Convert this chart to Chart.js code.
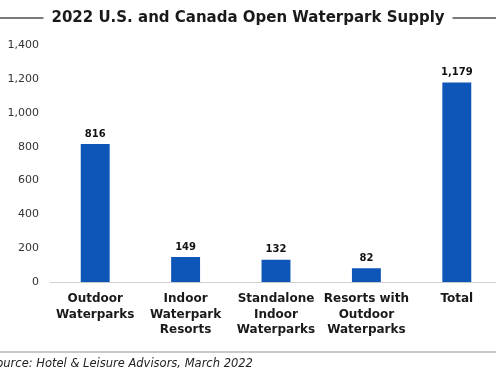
<!DOCTYPE html>
<html><head><meta charset="utf-8">
<script src="https://cdn.jsdelivr.net/npm/chart.js@4/dist/chart.umd.min.js"></script>
<style>
html,body{margin:0;padding:0;background:#fff;overflow:hidden;width:496px;height:380px;}
#wrap{position:absolute;left:0;top:0;width:502px;height:380px;}
</style></head><body>
<div id="wrap"><canvas id="c" width="502" height="380"></canvas></div>
<script>
const titleText = "2022 U.S. and Canada Open Waterpark Supply";
const sourceText = "Source: Hotel & Leisure Advisors, March 2022";
const categories = [["Outdoor","Waterparks"],["Indoor","Waterpark","Resorts"],["Standalone","Indoor","Waterparks"],["Resorts with","Outdoor","Waterparks"],["Total"]];
const values = [816, 149, 132, 82, 1179];
const yTicks = [0, 200, 400, 600, 800, 1000, 1200, 1400];

const FONT = "'DejaVu Sans', Verdana, sans-serif";

const decor = {
  id: 'decor',
  afterDraw(chart) {
    const ctx = chart.ctx;
    ctx.save();
    // title
    ctx.font = "bold 15px " + FONT;
    ctx.fillStyle = "#1a1a1a";
    ctx.textAlign = "center";
    ctx.textBaseline = "middle";
    const cx = 248, cy = 18;
    ctx.fillText(titleText, cx, cy);
    const w = ctx.measureText(titleText).width;
    ctx.strokeStyle = "#7a7a7a";
    ctx.lineWidth = 2;
    ctx.beginPath();
    ctx.moveTo(0, cy); ctx.lineTo(cx - w/2 - 8, cy);
    ctx.moveTo(cx + w/2 + 8, cy); ctx.lineTo(496, cy);
    ctx.stroke();
    // data labels
    ctx.font = "bold 10px " + FONT;
    ctx.fillStyle = "#111";
    ctx.textBaseline = "bottom";
    const meta = chart.getDatasetMeta(0);
    meta.data.forEach((bar, i) => {
      ctx.fillText(values[i].toLocaleString('en-US'), bar.x, bar.y - 5);
    });
    // separator and source
    ctx.strokeStyle = "#c8c8c8";
    ctx.lineWidth = 2;
    ctx.beginPath();
    ctx.moveTo(0, 352); ctx.lineTo(496, 352);
    ctx.stroke();
    ctx.font = "italic 11.5px " + FONT;
    ctx.fillStyle = "#222";
    ctx.textAlign = "left";
    ctx.textBaseline = "middle";
    ctx.fillText(sourceText, -11, 364);
    ctx.restore();
  }
};

new Chart(document.getElementById('c'), {
  type: 'bar',
  data: {
    labels: categories,
    datasets: [{
      data: values,
      backgroundColor: '#0d56b8',
      barPercentage: 0.64,
      categoryPercentage: 0.5
    }]
  },
  options: {
    responsive: false,
    animation: false,
    layout: { padding: { top: 45, left: 0, right: 0, bottom: 33 } },
    plugins: { legend: { display: false }, tooltip: { enabled: false }, title: { display: false } },
    scales: {
      x: {
        grid: { display: false, drawTicks: false },
        border: { display: true, color: '#d0d0d0', width: 1 },
        ticks: { color: '#1a1a1a', font: { family: FONT, size: 12, weight: 'bold', lineHeight: 1.3 }, padding: 9, maxRotation: 0, autoSkip: false }
      },
      y: {
        min: 0, max: 1400,
        afterBuildTicks(axis) { axis.ticks = yTicks.map(v => ({ value: v })); },
        afterFit(axis) { axis.width = 50; },
        grid: { display: false, drawTicks: false },
        border: { display: false },
        ticks: { color: '#333', font: { family: FONT, size: 11 }, padding: 11,
          callback: v => v.toLocaleString('en-US') }
      }
    }
  },
  plugins: [decor]
});
</script>
</body></html>
